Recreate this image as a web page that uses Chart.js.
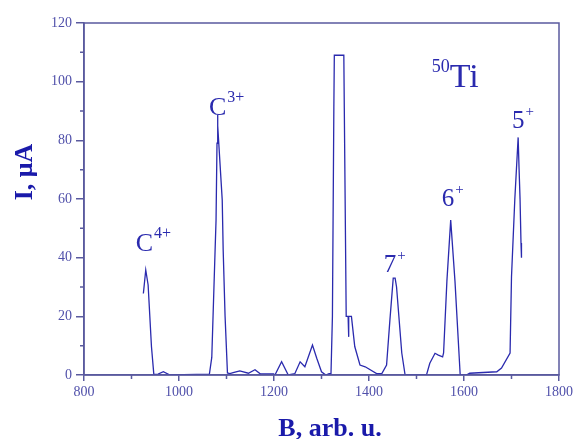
<!DOCTYPE html>
<html>
<head>
<meta charset="utf-8">
<script src="https://cdn.jsdelivr.net/npm/chart.js@4/dist/chart.umd.min.js"></script>
<style>
  html, body { margin: 0; padding: 0; background: #fff; }
  #wrap { width: 578px; height: 439px; }
</style>
</head>
<body>
<div id="wrap"><canvas id="grafico"></canvas></div>
<script>
// B, arb. u. and I, uA
const bVals = [925, 930, 935, 942, 947, 956, 967, 981, 1037, 1064, 1069, 1076, 1078, 1080, 1081, 1082, 1091, 1093, 1097, 1102,
  1107, 1114, 1128, 1146, 1160, 1171, 1199, 1202, 1216, 1230, 1244, 1255, 1265, 1281, 1290, 1300, 1309, 1316, 1320,
  1323, 1326, 1327, 1347, 1348, 1352, 1356, 1357, 1357.5, 1363, 1370, 1381, 1392, 1416, 1427, 1437, 1444, 1451, 1455,
  1458, 1469, 1476, 1521, 1528, 1539, 1546, 1555, 1557, 1564, 1572, 1581, 1592, 1605, 1612, 1669, 1679, 1697, 1700,
  1707, 1714, 1716, 1718, 1720, 1721];
const iVals = [27.8, 35.8, 30.7, 9.7, 0.2, 0.3, 1.1, 0, 0.2, 0.3, 6, 42.6, 52.8, 79, 88.6, 85, 59.7, 42.6, 20, 0.7,
  0.5, 0.8, 1.4, 0.6, 1.8, 0.4, 0.4, 0, 4.5, 0, 0.5, 4.5, 2.8, 10.2, 5.7, 1.1, 0, 0.5, 0.5,
  20, 91, 109, 109, 91, 20, 20, 13, 20, 20, 9.7, 3.4, 2.8, 0.5, 0.5, 3.4, 18.7, 33, 33,
  30, 7.5, 0, 0, 4, 7.4, 6.8, 6.2, 7.5, 32, 52.8, 32, 0, 0, 0.6, 1.1, 2.4, 7.5, 33.5,
  60, 81, 70, 60, 45, 40];

const xTicks = [800, 1000, 1200, 1400, 1600, 1800];
const yTicks = [0, 20, 40, 60, 80, 100, 120];

// peak labels: main text, superscript, anchor in data units
const etichette = [
  { testo: 'C', sup: '4+', b: 909, i: 42.3, size: 26 },
  { testo: 'C', sup: '3+', b: 1063, i: 88.6, size: 26 },
  { testo: '7', sup: '+', b: 1431, i: 35.1, size: 25 },
  { testo: '6', sup: '+', b: 1553, i: 57.5, size: 25 },
  { testo: '5', sup: '+', b: 1701, i: 84.2, size: 25 }
];

const coloreAssi = '#5a5a9e';
const coloreTesto = '#5050aa';
const coloreBlu = '#2a2aae';
const coloreTitoli = '#1a1aaa';
const serif = '"Liberation Serif", "DejaVu Serif", serif';

const cornice = {
  id: 'cornice',
  afterDraw(chart) {
    const { ctx, chartArea: a, scales } = chart;
    ctx.save();
    ctx.strokeStyle = coloreAssi;
    ctx.lineWidth = 1.5;
    ctx.strokeRect(a.left, a.top, a.right - a.left, a.bottom - a.top);
    // minor ticks
    ctx.beginPath();
    for (let v = 900; v < 1800; v += 200) {
      const x = scales.x.getPixelForValue(v);
      ctx.moveTo(x, a.bottom);
      ctx.lineTo(x, a.bottom + 4);
    }
    for (let v = 10; v < 120; v += 20) {
      const y = scales.y.getPixelForValue(v);
      ctx.moveTo(a.left, y);
      ctx.lineTo(a.left - 4, y);
    }
    ctx.stroke();

    // peak labels
    ctx.fillStyle = coloreBlu;
    ctx.textBaseline = 'alphabetic';
    ctx.textAlign = 'left';
    etichette.forEach(e => {
      const x = scales.x.getPixelForValue(e.b);
      const y = scales.y.getPixelForValue(e.i);
      ctx.font = e.size + 'px ' + serif;
      ctx.fillText(e.testo, x, y);
      const w = ctx.measureText(e.testo).width;
      ctx.font = Math.round(e.size * 0.6) + 'px ' + serif;
      ctx.fillText(e.sup, x + w + 1, y - e.size * 0.5);
    });
    // 50Ti
    const tx = scales.x.getPixelForValue(1532);
    const ty = scales.y.getPixelForValue(98.2);
    ctx.font = '18px ' + serif;
    ctx.fillText('50', tx, ty - 15);
    const w50 = ctx.measureText('50').width;
    ctx.font = '34px ' + serif;
    ctx.fillText('Ti', tx + w50, ty);

    // axis titles
    ctx.fillStyle = coloreTitoli;
    ctx.font = 'bold 26px ' + serif;
    ctx.textAlign = 'center';
    ctx.fillText('B, arb. u.', 330, 436);
    ctx.translate(32, 172);
    ctx.rotate(-Math.PI / 2);
    ctx.fillText('I, μA', 0, 0);
    ctx.restore();
  }
};

const ctx = document.getElementById('grafico').getContext('2d');
const grafico = new Chart(ctx, {
  type: 'line',
  data: {
    datasets: [{
      data: bVals.map((b, k) => ({ x: b, y: iVals[k] })),
      borderColor: coloreBlu,
      borderWidth: 1.3,
      pointRadius: 0,
      tension: 0,
      fill: false
    }]
  },
  options: {
    responsive: true,
    maintainAspectRatio: false,
    animation: false,
    layout: { padding: { top: 23, right: 19, left: 0, bottom: 0 } },
    plugins: { legend: { display: false }, tooltip: { enabled: false } },
    scales: {
      x: {
        type: 'linear',
        min: 800,
        max: 1800,
        afterBuildTicks: s => { s.ticks = xTicks.map(v => ({ value: v })); },
        afterFit: s => { s.height = 64; },
        grid: { drawOnChartArea: false, color: coloreAssi, tickLength: 6, lineWidth: 1.5 },
        border: { color: coloreAssi, width: 1.5 },
        ticks: { color: coloreTesto, font: { family: serif, size: 14 }, padding: 3, maxRotation: 0, callback: v => String(v) }
      },
      y: {
        min: 0,
        max: 120,
        afterBuildTicks: s => { s.ticks = yTicks.map(v => ({ value: v })); },
        afterFit: s => { s.width = 84; },
        grid: { drawOnChartArea: false, color: coloreAssi, tickLength: 8, lineWidth: 1.5 },
        border: { color: coloreAssi, width: 1.5 },
        ticks: { color: coloreTesto, font: { family: serif, size: 14 }, padding: 4, callback: v => String(v) }
      }
    }
  },
  plugins: [cornice]
});
</script>
</body>
</html>
